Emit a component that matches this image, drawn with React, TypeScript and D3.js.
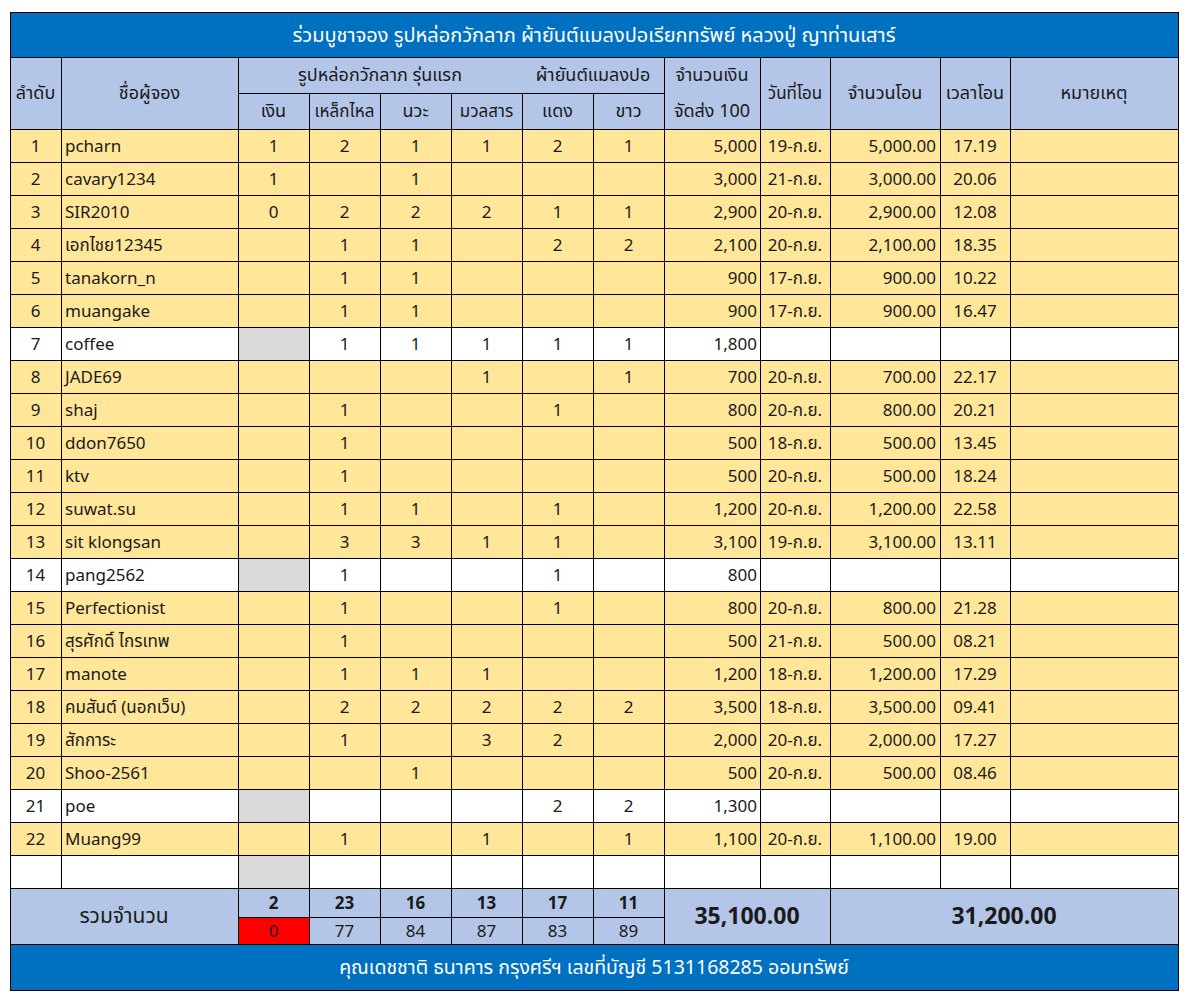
import React from "react";
import * as d3 from "d3";

const title = "ร่วมบูชาจอง รูปหล่อกวักลาภ ผ้ายันต์แมลงปอเรียกทรัพย์ หลวงปู่ ญาท่านเสาร์";
const footer = "คุณเดชชาติ ธนาคาร กรุงศรีฯ เลขที่บัญชี 5131168285 ออมทรัพย์";
const groupHeaders = ["รูปหล่อกวักลาภ รุ่นแรก", "ผ้ายันต์แมลงปอ"];
const itemHeaders = ["เงิน", "เหล็กไหล", "นวะ", "มวลสาร", "แดง", "ขาว"];
const totalLabel = "รวมจำนวน";

const names = ["pcharn", "cavary1234", "SIR2010", "เอกไชย12345", "tanakorn_n", "muangake", "coffee", "JADE69", "shaj", "ddon7650", "ktv", "suwat.su", "sit klongsan", "pang2562", "Perfectionist", "สุรศักดิ์ ไกรเทพ", "manote", "คมสันต์ (นอกเว็บ)", "สักการะ", "Shoo-2561", "poe", "Muang99"];
const silver = [1, 1, 0, null, null, null, null, null, null, null, null, null, null, null, null, null, null, null, null, null, null, null];
const lekLai = [2, null, 2, 1, 1, 1, 1, null, 1, 1, 1, 1, 3, 1, 1, 1, 1, 2, 1, null, null, 1];
const nawa = [1, 1, 2, 1, 1, 1, 1, null, null, null, null, 1, 3, null, null, null, 1, 2, null, 1, null, null];
const muanSan = [1, null, 2, null, null, null, 1, 1, null, null, null, null, 1, null, null, null, 1, 2, 3, null, null, 1];
const redCloth = [2, null, 1, 2, null, null, 1, null, 1, null, null, 1, 1, 1, 1, null, null, 2, 2, null, 2, null];
const whiteCloth = [1, null, 1, 2, null, null, 1, 1, null, null, null, null, null, null, null, null, null, 2, null, null, 2, 1];
const amounts = [5000, 3000, 2900, 2100, 900, 900, 1800, 700, 800, 500, 500, 1200, 3100, 800, 800, 500, 1200, 3500, 2000, 500, 1300, 1100];
const transferDates = ["19-ก.ย.", "21-ก.ย.", "20-ก.ย.", "20-ก.ย.", "17-ก.ย.", "17-ก.ย.", "", "20-ก.ย.", "20-ก.ย.", "18-ก.ย.", "20-ก.ย.", "20-ก.ย.", "19-ก.ย.", "", "20-ก.ย.", "21-ก.ย.", "18-ก.ย.", "18-ก.ย.", "20-ก.ย.", "20-ก.ย.", "", "20-ก.ย."];
const transferred = [5000, 3000, 2900, 2100, 900, 900, null, 700, 800, 500, 500, 1200, 3100, null, 800, 500, 1200, 3500, 2000, 500, null, 1100];
const transferTimes = ["17.19", "20.06", "12.08", "18.35", "10.22", "16.47", "", "22.17", "20.21", "13.45", "18.24", "22.58", "13.11", "", "21.28", "08.21", "17.29", "09.41", "17.27", "08.46", "", "19.00"];
const pendingRows = [7, 14, 21];
const itemTotals = [2, 23, 16, 13, 17, 11];
const itemRemaining = [0, 77, 84, 87, 83, 89];
const totalAmount = 35100;
const totalTransferred = 31200;

const colWidths = [51, 177, 71, 71, 71, 71, 71, 71, 96, 70, 110, 70, 168];

const BLUE = "#0070c0";
const HEAD = "#b4c6e7";
const YEL = "#ffe699";
const GRAY = "#d9d9d9";
const TXT = "#1a1a1a";
const FONT = "Tahoma, 'Leelawadee UI', 'Noto Sans Thai', 'Liberation Sans', Arial, sans-serif";

export default function App() {
  const left = 10;
  const edges = [left, ...Array.from(d3.cumsum(colWidths), (v) => left + v)];
  const right = edges[edges.length - 1];
  const rowH = 33;
  const dataTop = 129;
  const nRows = names.length + 1;
  const y = d3.scaleLinear().domain([0, 1]).range([dataTop, dataTop + rowH]);
  const totTop = y(nRows);
  const totMid = totTop + 29;
  const totBot = totTop + 56;
  const footBot = totBot + 46;
  const fmt = d3.format(",");
  const fmt2 = d3.format(",.2f");
  const items = [silver, lekLai, nawa, muanSan, redCloth, whiteCloth];
  const cx = (i: number) => (edges[i] + edges[i + 1]) / 2;

  const cells: React.ReactNode[] = [];
  const texts: React.ReactNode[] = [];
  for (let r = 0; r < nRows; r++) {
    const y0 = y(r);
    const y1 = y(r + 1);
    const ty = (y0 + y1) / 2 + 6;
    const isEmpty = r >= names.length;
    const pending = isEmpty || pendingRows.includes(r + 1);
    cells.push(<rect key={"bg" + r} x={left} y={y0} width={right - left} height={rowH} fill={pending ? "#ffffff" : YEL} />);
    if (pending) cells.push(<rect key={"g" + r} x={edges[2]} y={y0} width={edges[3] - edges[2]} height={rowH} fill={GRAY} />);
    if (isEmpty) continue;
    texts.push(<text key={"n" + r} x={cx(0)} y={ty} textAnchor="middle">{r + 1}</text>);
    texts.push(<text key={"nm" + r} x={edges[1] + 4} y={ty}>{names[r]}</text>);
    items.forEach((arr, k) => {
      const v = arr[r];
      if (v !== null && v !== undefined) texts.push(<text key={"i" + r + "-" + k} x={cx(2 + k)} y={ty} textAnchor="middle">{v}</text>);
    });
    texts.push(<text key={"a" + r} x={edges[9] - 3} y={ty} textAnchor="end">{fmt(amounts[r])}</text>);
    if (transferDates[r]) texts.push(<text key={"d" + r} x={cx(9)} y={ty} textAnchor="middle">{transferDates[r]}</text>);
    if (transferred[r] !== null) texts.push(<text key={"t" + r} x={edges[11] - 4} y={ty} textAnchor="end">{fmt2(transferred[r] as number)}</text>);
    if (transferTimes[r]) texts.push(<text key={"tm" + r} x={cx(11)} y={ty} textAnchor="middle">{transferTimes[r]}</text>);
  }

  const lines: React.ReactNode[] = [];
  for (let r = 0; r <= nRows; r++) lines.push(<line key={"h" + r} x1={left} x2={right} y1={y(r)} y2={y(r)} />);
  edges.forEach((e, i) => {
    const top = i >= 3 && i <= 7 ? 93 : 57;
    lines.push(<line key={"v" + i} x1={e} x2={e} y1={top} y2={totTop} />);
  });
  lines.push(<line key="hs" x1={edges[2]} x2={edges[8]} y1={93} y2={93} />);
  [edges[0], edges[2], edges[3], edges[4], edges[5], edges[6], edges[7], edges[8], edges[10], right].forEach((e, i) => {
    lines.push(<line key={"tv" + i} x1={e} x2={e} y1={totTop} y2={totBot} />);
  });
  lines.push(<line key="tm" x1={edges[2]} x2={edges[8]} y1={totMid} y2={totMid} />);
  lines.push(<line key="tb" x1={left} x2={right} y1={totBot} y2={totBot} />);

  return (
    <svg width={1189} height={1002} style={{ display: "block", margin: "-8px" }} fontFamily={FONT}>
      <rect x={0} y={0} width={1189} height={1002} fill="#ffffff" />
      <rect x={left} y={12} width={right - left} height={45} fill={BLUE} />
      <rect x={left} y={57} width={right - left} height={72} fill={HEAD} />
      {cells}
      <rect x={left} y={totTop} width={right - left} height={totBot - totTop} fill={HEAD} />
      <rect x={edges[2]} y={totMid} width={edges[3] - edges[2]} height={totBot - totMid} fill="#ff0000" />
      <rect x={left} y={totBot} width={right - left} height={footBot - totBot} fill={BLUE} />
      <g stroke="#000" strokeWidth={1} shapeRendering="crispEdges">
        {lines}
        <rect x={left} y={12} width={right - left} height={footBot - 12} fill="none" />
        <line x1={left} x2={right} y1={57} y2={57} />
      </g>
      <text x={(left + right) / 2} y={42} textAnchor="middle" fill="#fff" fontSize={20}>{title}</text>
      <g fill={TXT} fontSize={18}>
        <text x={cx(0)} y={99} textAnchor="middle">ลำดับ</text>
        <text x={cx(1)} y={99} textAnchor="middle">ชื่อผู้จอง</text>
        <text x={(edges[2] + edges[6]) / 2} y={81} textAnchor="middle">{groupHeaders[0]}</text>
        <text x={(edges[6] + edges[8]) / 2} y={81} textAnchor="middle">{groupHeaders[1]}</text>
        {itemHeaders.map((h, k) => (
          <text key={h} x={cx(2 + k)} y={117} textAnchor="middle" fontSize={k === 1 || k === 3 ? 17 : 18}>{h}</text>
        ))}
        <text x={cx(8)} y={81} textAnchor="middle">จำนวนเงิน</text>
        <text x={cx(8)} y={117} textAnchor="middle">จัดส่ง 100</text>
        <text x={cx(9)} y={99} textAnchor="middle" fontSize={17}>วันที่โอน</text>
        <text x={cx(10)} y={99} textAnchor="middle">จำนวนโอน</text>
        <text x={cx(11)} y={99} textAnchor="middle">เวลาโอน</text>
        <text x={cx(12)} y={99} textAnchor="middle">หมายเหตุ</text>
      </g>
      <g fill={TXT} fontSize={17}>{texts}</g>
      <g fill={TXT}>
        <text x={(edges[0] + edges[2]) / 2} y={(totTop + totBot) / 2 + 7} textAnchor="middle" fontSize={21}>{totalLabel}</text>
        {itemTotals.map((v, k) => (
          <text key={"it" + k} x={cx(2 + k)} y={totTop + 21} textAnchor="middle" fontSize={17} fontWeight="bold">{v}</text>
        ))}
        {itemRemaining.map((v, k) => (
          <text key={"ir" + k} x={cx(2 + k)} y={totMid + 20} textAnchor="middle" fontSize={17}>{v}</text>
        ))}
        <text x={cx(8) + (edges[10] - edges[9]) / 2} y={(totTop + totBot) / 2 + 8} textAnchor="middle" fontSize={23} fontWeight="bold">{fmt2(totalAmount)}</text>
        <text x={(edges[10] + right) / 2} y={(totTop + totBot) / 2 + 8} textAnchor="middle" fontSize={23} fontWeight="bold">{fmt2(totalTransferred)}</text>
      </g>
      <text x={(left + right) / 2} y={(totBot + footBot) / 2 + 7} textAnchor="middle" fill="#fff" fontSize={19.5}>{footer}</text>
    </svg>
  );
}
